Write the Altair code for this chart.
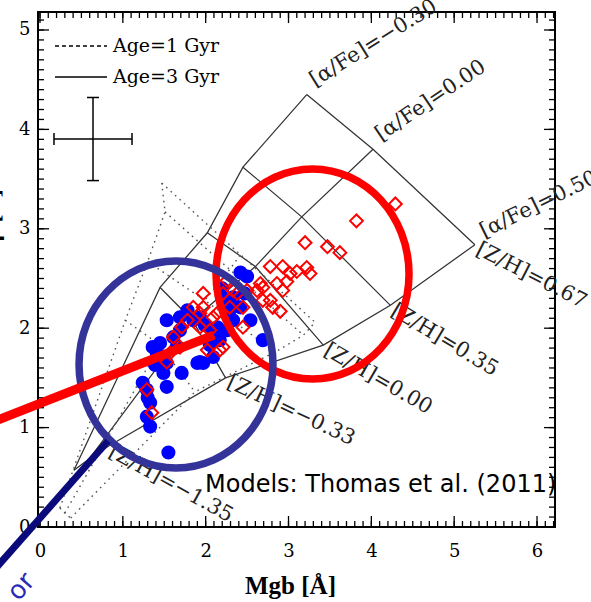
import altair as alt
import pandas as pd

# ---------------- axes ----------------
X_DOMAIN = [-0.024, 6.217]
Y_DOMAIN = [0.0, 5.181]
X_MAJOR = [0, 1, 2, 3, 4, 5, 6]
Y_MAJOR = [0, 1, 2, 3, 4, 5]
X_MINOR = [round(0.1 * i, 1) for i in range(63)]
Y_MINOR = [round(0.1 * i, 1) for i in range(52)]

# ---------------- model grids (Thomas et al. 2011) ----------------
AFE_LABELS = ["[α/Fe]=−0.30", "[α/Fe]=0.00", "[α/Fe]=0.50"]
ZH_LABELS = ["[Z/H]=−1.35", "[Z/H]=−0.33", "[Z/H]=0.00", "[Z/H]=0.35", "[Z/H]=0.67"]

# Age = 3 Gyr (solid); rows = [α/Fe] -0.30, 0.00, 0.50 ; columns = [Z/H] -1.35 ... 0.67
SOLID_MGB = [
    [0.41, 1.45, 2.02, 2.45, 3.22],
    [0.60, 1.84, 2.60, 3.16, 4.02],
    [0.82, 2.24, 3.42, 4.23, 5.25],
]
SOLID_HB = [
    [0.57, 2.41, 2.96, 3.62, 4.35],
    [0.69, 2.08, 2.62, 3.12, 3.80],
    [0.81, 1.50, 1.83, 2.23, 2.84],
]
# Age = 1 Gyr (dotted)
DOTTED_MGB = [
    [0.24, 1.03, 1.30, 1.51, 1.47],
    [0.30, 1.45, 1.99, 2.29, 2.42],
    [0.37, 1.87, 2.84, 3.18, 3.32],
]
DOTTED_HB = [
    [0.19, 2.08, 2.67, 3.17, 3.46],
    [0.14, 1.83, 2.28, 2.59, 2.74],
    [0.09, 1.36, 1.76, 1.93, 2.06],
]
AFE_ANGLES = [328, 326, 334]
ZH_ANGLES = [29, 25, 30, 31, 27]

# ---------------- galaxies ----------------
BLUE_MGB = [1.53, 1.69, 1.36, 1.41, 1.65, 1.71, 1.49, 1.24, 1.53, 1.93, 2.09, 2.14, 2.33, 2.42,
            2.50, 2.42, 2.69, 2.33, 2.26, 1.93, 1.78, 2.54, 1.97, 1.85, 1.29, 1.33, 1.29, 1.33,
            1.55, 1.45, 1.61, 1.53, 1.90, 1.69, 2.09, 2.17, 2.05, 1.39, 2.29, 2.23, 1.99, 2.47,
            2.20, 1.30]
BLUE_HB = [2.08, 2.11, 1.81, 1.75, 1.81, 1.55, 1.55, 1.45, 1.41, 1.66, 1.71, 2.01, 2.08, 2.21,
           2.52, 2.56, 1.88, 2.31, 1.98, 2.11, 2.18, 2.08, 1.65, 2.08, 1.38, 1.25, 1.11, 1.01,
           0.75, 1.85, 1.91, 1.65, 1.65, 1.98, 1.98, 1.88, 1.83, 1.63, 2.18, 2.28, 2.03, 2.35,
           2.40, 1.30]
RED_MGB = [4.29, 3.82, 3.20, 3.47, 3.62, 2.78, 2.93, 3.22, 3.02, 3.26, 2.86, 2.78, 2.90, 2.98,
           2.62, 2.69, 2.45, 2.21, 1.97, 1.85, 1.97, 2.14, 2.29, 2.38, 2.21, 2.45, 2.05, 2.02,
           1.29, 1.35, 1.53, 1.71, 1.78, 1.93, 2.09, 2.17, 2.26, 2.33, 2.50, 2.69, 2.81, 1.93,
           1.61, 1.69, 1.57, 2.93, 2.66, 3.10]
RED_HB = [3.25, 3.08, 2.86, 2.82, 2.76, 2.62, 2.62, 2.61, 2.55, 2.55, 2.45, 2.28, 2.17, 2.47,
          2.38, 2.41, 2.21, 1.81, 2.35, 2.21, 2.21, 2.15, 2.21, 2.35, 2.35, 2.01, 1.98, 1.78,
          1.38, 1.15, 1.66, 2.01, 2.08, 2.15, 2.11, 1.78, 2.48, 2.38, 2.38, 2.28, 2.21, 2.01,
          1.91, 1.81, 1.75, 2.38, 2.45, 2.57]

# ---------------- legend / error bar ----------------
LEGEND_TEXT = ["Age=1 Gyr", "Age=3 Gyr"]
LEGEND_Y = [4.839, 4.527]
LEGEND_X = [0.181, 0.809]
LEGEND_TX = 0.881
ERR_X, ERR_Y = 0.640, 3.903
ERR_DX, ERR_DY = 0.471, 0.418

# ---------------- annotations ----------------
ELL_X = [1.642, 3.290]
ELL_Y = [1.635, 2.545]
RED_LINE_X = [-0.724, 2.101]
RED_LINE_Y = [1.007, 1.932]
NAVY_LINE_X = [0.821, -0.724]
NAVY_LINE_Y = [0.865, -0.594]
MODELS_TEXT = "Models: Thomas et al. (2011)"
MODELS_XY = (1.992, 0.352)
OR_TEXT = "or"
OR_XY = (-0.26, -0.755)

W, H = 517, 515
MAJOR_LEN, MINOR_LEN = 11, 6

XS = alt.Scale(domain=X_DOMAIN, nice=False, zero=False)
YS = alt.Scale(domain=Y_DOMAIN, nice=False, zero=False)
SERIF = "DejaVu Serif"

x_lab = alt.Axis(orient="bottom", values=X_MAJOR, ticks=False, domain=False, grid=False,
                 labelFont=SERIF, labelFontSize=18, labelColor="black", labelPadding=15,
                 title="Mgb [Å]", titleFont="Liberation Serif", titleFontSize=25,
                 titleFontWeight="bold", titleColor="black", titleX=252, titleY=66,
                 titleBaseline="alphabetic", titleAlign="center")
y_lab = alt.Axis(orient="left", values=Y_MAJOR, ticks=False, domain=False, grid=False,
                 labelFont=SERIF, labelFontSize=18, labelColor="black", labelPadding=8,
                 title="Hβ [Å]", titleFont="Liberation Serif", titleFontSize=24,
                 titleFontWeight="bold", titleColor="black", titleX=-40, titleY=212,
                 titleBaseline="alphabetic", titleAlign="center", titleAngle=270)


def enc(xaxis=None, yaxis=None):
    return dict(x=alt.X("x:Q", scale=XS, axis=xaxis), y=alt.Y("y:Q", scale=YS, axis=yaxis))


def grid_df(mgb, hb):
    rows = []
    for i in range(len(mgb)):
        for j in range(len(mgb[i])):
            rows.append(dict(x=mgb[i][j], y=hb[i][j], line=f"a{i}", order=j))
    for j in range(len(mgb[0])):
        for i in range(len(mgb)):
            rows.append(dict(x=mgb[i][j], y=hb[i][j], line=f"z{j}", order=i))
    return pd.DataFrame(rows)


# ---- inward ticks on all four sides (positions from the tick value lists) ----
tick_layers = []
for vals, ln in ((X_MAJOR, MAJOR_LEN), (X_MINOR, MINOR_LEN)):
    d = pd.DataFrame({"x": vals})
    for y0, y1 in ((H, H - ln), (0, ln)):
        tick_layers.append(alt.Chart(d).mark_rule(color="black", strokeWidth=1.3).encode(
            x=alt.X("x:Q", scale=XS, axis=None), y=alt.value(y0), y2=alt.value(y1)))
for vals, ln in ((Y_MAJOR, MAJOR_LEN), (Y_MINOR, MINOR_LEN)):
    d = pd.DataFrame({"y": vals})
    for x0, x1 in ((0, ln), (W, W - ln)):
        tick_layers.append(alt.Chart(d).mark_rule(color="black", strokeWidth=1.3).encode(
            y=alt.Y("y:Q", scale=YS, axis=None), x=alt.value(x0), x2=alt.value(x1)))

solid = alt.Chart(grid_df(SOLID_MGB, SOLID_HB)).mark_line(
    color="#333333", strokeWidth=1.25).encode(
    detail="line:N", order="order:Q", **enc(x_lab, y_lab))
dotted = alt.Chart(grid_df(DOTTED_MGB, DOTTED_HB)).mark_line(
    color="#555555", strokeWidth=1.4, strokeDash=[1.6, 4.4]).encode(
    detail="line:N", order="order:Q", **enc())

blue = alt.Chart(pd.DataFrame({"x": BLUE_MGB, "y": BLUE_HB})).mark_point(
    shape="circle", filled=True, color="#0000ff", size=200, opacity=1).encode(**enc())
red = alt.Chart(pd.DataFrame({"x": RED_MGB, "y": RED_HB})).mark_point(
    shape="diamond", filled=False, color="#ff0000", size=165, strokeWidth=2, opacity=1).encode(**enc())

afe_lab = pd.DataFrame({"x": [SOLID_MGB[i][4] for i in range(3)],
                        "y": [SOLID_HB[i][4] for i in range(3)],
                        "t": AFE_LABELS, "a": AFE_ANGLES})
zh_lab = pd.DataFrame({"x": SOLID_MGB[2], "y": SOLID_HB[2], "t": ZH_LABELS, "a": ZH_ANGLES})

afe_text = alt.Chart(afe_lab).mark_text(
    font=SERIF, fontSize=21, color="#222222", align="left", baseline="bottom",
    dx=11, dy=2, clip=False).encode(text="t:N", angle=alt.Angle("a:Q", scale=None), **enc())
zh_text = alt.Chart(zh_lab).mark_text(
    font=SERIF, fontSize=21, color="#222222", align="left", baseline="middle",
    dx=4, dy=2, clip=False).encode(text="t:N", angle=alt.Angle("a:Q", scale=None), **enc())

leg_rows = []
for k in range(2):
    for xx in LEGEND_X:
        leg_rows.append(dict(x=xx, y=LEGEND_Y[k], k=k))
leg_df = pd.DataFrame(leg_rows)
leg_dash = alt.Chart(leg_df[leg_df.k == 0]).mark_line(
    color="black", strokeWidth=1.3, strokeDash=[4, 3]).encode(**enc())
leg_solid = alt.Chart(leg_df[leg_df.k == 1]).mark_line(
    color="black", strokeWidth=1.3).encode(**enc())
leg_text = alt.Chart(pd.DataFrame({"x": [LEGEND_TX] * 2, "y": LEGEND_Y, "t": LEGEND_TEXT})).mark_text(
    font=SERIF, fontSize=19, color="black", align="left", baseline="middle").encode(
    text="t:N", **enc())

err_h = alt.Chart(pd.DataFrame({"x": [ERR_X - ERR_DX], "x2": [ERR_X + ERR_DX], "y": [ERR_Y]})).mark_rule(
    color="black", strokeWidth=1.5).encode(x2="x2:Q", **enc())
err_v = alt.Chart(pd.DataFrame({"x": [ERR_X], "y": [ERR_Y - ERR_DY], "y2": [ERR_Y + ERR_DY]})).mark_rule(
    color="black", strokeWidth=1.5).encode(y2="y2:Q", **enc())
cap_v = alt.Chart(pd.DataFrame({"x": [ERR_X - ERR_DX, ERR_X + ERR_DX], "y": [ERR_Y] * 2})).mark_tick(
    orient="vertical", color="black", size=12, thickness=1.5, opacity=1).encode(**enc())
cap_h = alt.Chart(pd.DataFrame({"x": [ERR_X] * 2, "y": [ERR_Y - ERR_DY, ERR_Y + ERR_DY]})).mark_tick(
    orient="horizontal", color="black", size=12, thickness=1.5, opacity=1).encode(**enc())

blue_ring = alt.Chart(pd.DataFrame({"x": [ELL_X[0]], "y": [ELL_Y[0]]})).mark_point(
    shape="M -0.937 0 A 0.937 1 0 1 0 0.937 0 A 0.937 1 0 1 0 -0.937 0 Z",
    size=42849, filled=False, color="#333399", strokeWidth=7.5, opacity=1, clip=False).encode(**enc())
red_ring = alt.Chart(pd.DataFrame({"x": [ELL_X[1]], "y": [ELL_Y[1]]})).mark_point(
    shape="M -0.919 0 A 0.919 1 0 1 0 0.919 0 A 0.919 1 0 1 0 -0.919 0 Z",
    size=44100, filled=False, color="#ff0000", strokeWidth=7.5, opacity=1, clip=False).encode(**enc())

red_line = alt.Chart(pd.DataFrame({"x": RED_LINE_X, "y": RED_LINE_Y})).mark_line(
    color="#ff0000", strokeWidth=9, strokeCap="butt", clip=False).encode(**enc())
navy_line = alt.Chart(pd.DataFrame({"x": NAVY_LINE_X, "y": NAVY_LINE_Y})).mark_line(
    color="#0a0a7a", strokeWidth=7, strokeCap="butt", clip=False).encode(**enc())

models = alt.Chart(pd.DataFrame({"x": [MODELS_XY[0]], "y": [MODELS_XY[1]], "t": [MODELS_TEXT]})).mark_text(
    font="DejaVu Sans", fontSize=24, color="black", align="left", baseline="alphabetic",
    clip=False).encode(text="t:N", **enc())
or_text = alt.Chart(pd.DataFrame({"x": [OR_XY[0]], "y": [OR_XY[1]], "t": [OR_TEXT]})).mark_text(
    font="DejaVu Sans", fontSize=26, color="#2a2ab8", align="left", baseline="alphabetic",
    angle=311, clip=False).encode(text="t:N", **enc())

chart = alt.layer(
    solid, dotted, *tick_layers, blue, red, afe_text, zh_text, leg_dash, leg_solid, leg_text,
    err_h, err_v, cap_v, cap_h, models, red_ring, blue_ring, red_line, navy_line, or_text
).resolve_axis(x="independent", y="independent").properties(
    width=W, height=H,
    autosize=alt.AutoSizeParams(type="none"),
    padding={"left": 38, "top": 12, "right": 36, "bottom": 75},
    background="white",
).configure_view(stroke="black", strokeWidth=2)

chart.save("out.html", embed_options={"renderer": "svg", "actions": False})
